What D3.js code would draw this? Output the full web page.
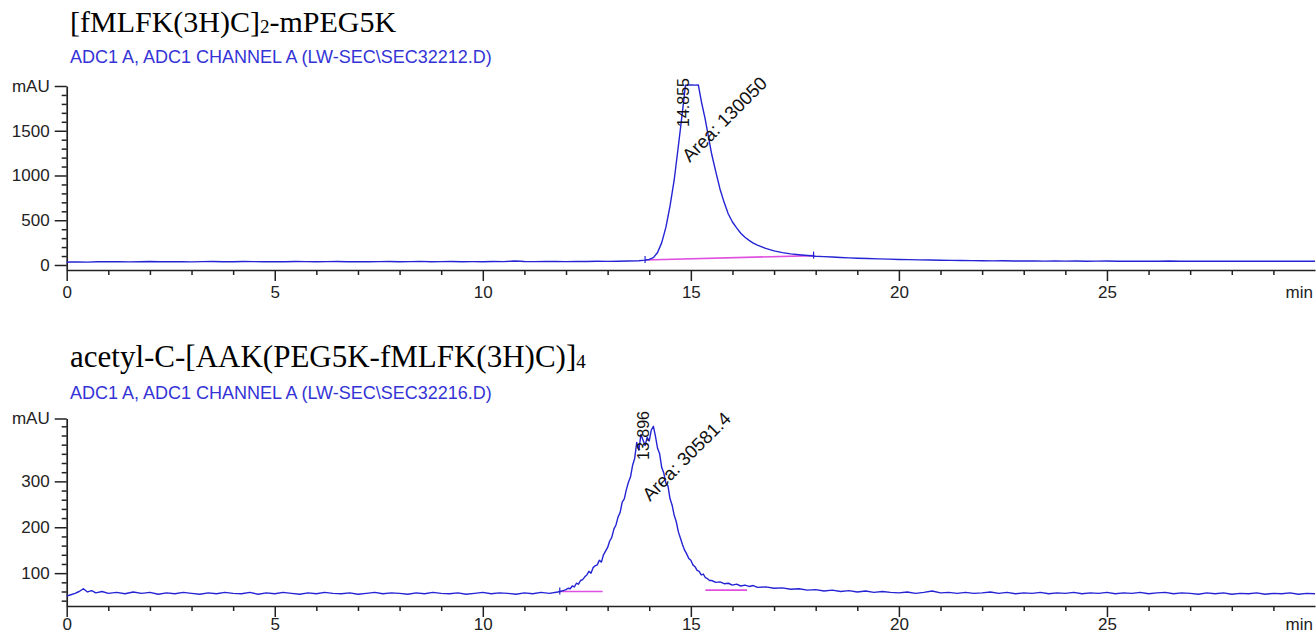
<!DOCTYPE html>
<html>
<head>
<meta charset="utf-8">
<script src="https://cdn.jsdelivr.net/npm/d3@7"></script>
<style>
body { margin: 0; background: #fff; }
</style>
</head>
<body>
<script>

// chromatogram 1: [fMLFK(3H)C]2-mPEG5K  (time in min, signal in mAU)
var topTrace = [
    [0,30],[0.1,33],[0.25,35],[0.5,32],[0.75,37],[1,36],[1.25,38],[1.5,35],[1.75,37],[2,39],
    [2.25,36],[2.5,38],[2.75,37],[3,35],[3.25,38],[3.5,39],[3.75,36],[4,37],[4.25,39],[4.5,38],
    [4.75,36],[5,38],[5.25,37],[5.5,39],[5.75,38],[6,36],[6.25,38],[6.5,39],[6.75,37],[7,38],
    [7.25,36],[7.5,38],[7.75,39],[8,37],[8.25,38],[8.5,40],[8.75,37],[9,38],[9.25,39],[9.5,37],
    [9.75,38],[10,37],[10.25,39],[10.5,38],[10.75,44],[10.9,41],[11,39],[11.25,38],[11.5,40],[11.75,39],
    [12,38],[12.25,40],[12.5,39],[12.75,41],[13,40],[13.25,42],[13.5,44],[13.75,48],[13.9,54],[14,62],
    [14.1,82],[14.2,140],[14.3,250],[14.4,420],[14.5,660],[14.6,950],[14.7,1330],[14.8,1720],[14.87,2010],[15,2012],
    [15.1,2010],[15.18,2012],[15.26,1810],[15.34,1640],[15.42,1440],[15.5,1240],[15.6,1040],[15.7,850],[15.8,700],[15.9,570],
    [16,480],[16.1,415],[16.2,355],[16.3,310],[16.4,275],[16.5,245],[16.6,222],[16.8,185],[17,158],[17.2,138],
    [17.4,124],[17.6,114],[17.8,106],[18,98],[18.2,94],[18.4,89],[18.6,84],[18.8,80],[19,76],[19.25,72],
    [19.5,68],[19.75,65],[20,62],[20.25,60],[20.5,57],[20.75,55],[21,53],[21.25,51],[21.5,50],[21.75,49],
    [22,47],[22.25,46],[22.5,47],[22.75,45],[23,44],[23.25,45],[23.5,43],[23.75,44],[24,43],[24.25,44],
    [24.5,42],[24.75,43],[25,44],[25.25,42],[25.5,43],[25.75,41],[26,43],[26.25,42],[26.5,44],[26.75,42],
    [27,41],[27.25,43],[27.5,42],[27.75,41],[28,43],[28.25,42],[28.5,41],[28.75,43],[29,42],[29.25,41],
    [29.5,43],[29.75,42],[30,41]
];

// chromatogram 2: acetyl-C-[AAK(PEG5K-fMLFK(3H)C)]4
var bottomTrace = [
    [0,50],[0.1,53],[0.2,56],[0.3,60],[0.4,66],[0.5,59],[0.6,62],[0.7,57],[0.85,60],[1,56],
    [1.2,58],[1.4,55],[1.6,59],[1.8,56],[2,58],[2.2,54],[2.4,57],[2.6,55],[2.8,58],[3,56],
    [3.2,54],[3.4,57],[3.6,55],[3.8,58],[4,56],[4.2,55],[4.4,58],[4.6,54],[4.8,57],[5,55],
    [5.2,58],[5.4,56],[5.6,54],[5.8,57],[6,55],[6.2,58],[6.4,56],[6.6,55],[6.8,57],[7,54],
    [7.2,56],[7.4,58],[7.6,55],[7.8,57],[8,56],[8.2,54],[8.4,57],[8.6,55],[8.8,58],[9,56],
    [9.2,55],[9.4,57],[9.6,54],[9.8,56],[10,58],[10.2,55],[10.4,57],[10.6,56],[10.8,54],[11,57],
    [11.2,55],[11.4,58],[11.6,56],[11.8,59],[11.9,61],[12,64],[12.05,67],[12.1,66],[12.15,72],[12.2,70],
    [12.25,78],[12.3,76],[12.35,84],[12.4,86],[12.45,92],[12.5,96],[12.55,104],[12.6,100],[12.65,112],[12.7,116],
    [12.75,118],[12.8,128],[12.85,124],[12.9,140],[12.95,148],[13,156],[13.05,170],[13.1,178],[13.15,196],[13.2,205],
    [13.25,222],[13.3,232],[13.35,255],[13.4,262],[13.45,282],[13.5,298],[13.55,310],[13.6,335],[13.65,350],[13.7,385],
    [13.75,368],[13.8,402],[13.85,390],[13.9,378],[13.95,396],[14,388],[14.05,412],[14.1,420],[14.15,398],[14.2,372],
    [14.25,360],[14.3,330],[14.35,318],[14.4,296],[14.45,290],[14.5,262],[14.55,248],[14.6,226],[14.65,212],[14.7,190],
    [14.75,176],[14.8,162],[14.85,150],[14.9,142],[14.95,132],[15,128],[15.05,118],[15.1,114],[15.15,106],[15.2,104],
    [15.25,96],[15.3,98],[15.35,90],[15.4,88],[15.45,84],[15.5,84],[15.6,80],[15.7,81],[15.8,77],[15.9,78],
    [16,74],[16.1,76],[16.2,72],[16.3,74],[16.4,71],[16.5,73],[16.6,69],[16.8,70],[17,67],[17.2,68],
    [17.4,65],[17.6,66],[17.8,63],[18,64],[18.2,61],[18.4,63],[18.6,60],[18.8,62],[19,59],[19.2,61],
    [19.4,58],[19.6,60],[19.8,58],[20,57],[20.2,59],[20.4,56],[20.6,58],[20.8,61],[21,57],[21.2,58],
    [21.4,56],[21.6,58],[21.8,56],[22,57],[22.2,59],[22.4,56],[22.6,58],[22.8,55],[23,57],[23.2,56],
    [23.4,58],[23.6,55],[23.8,57],[24,56],[24.2,58],[24.4,55],[24.6,57],[24.8,56],[25,58],[25.2,55],
    [25.4,57],[25.6,56],[25.8,58],[26,55],[26.2,57],[26.4,58],[26.6,55],[26.8,57],[27,56],[27.2,54],
    [27.4,57],[27.6,55],[27.8,57],[28,54],[28.2,56],[28.4,55],[28.6,57],[28.8,54],[29,56],[29.2,55],
    [29.4,57],[29.6,54],[29.8,56],[30,55]
];

// integration baselines (pink) and event marks
var topBaselines = [ [[13.9,55],[17.95,105]] ];
var bottomBaselines = [ [[11.85,60],[12.88,60]], [[15.35,63],[16.35,63]] ];
var topMarks = [[13.9,55],[17.95,105]];
var bottomMarks = [[11.85,60]];

var peakTimes = [14.855, 13.896];
var peakLabels = ["14.855", "13.896"];
var areaLabels = ["Area: 130050", "Area: 30581.4"];

var xTicks = [0, 5, 10, 15, 20, 25];
var topYTicks = [0, 500, 1000, 1500];
var bottomYTicks = [100, 200, 300];

var titleMain = ["[fMLFK(3H)C]", "acetyl-C-[AAK(PEG5K-fMLFK(3H)C)]"];
var titleSub = ["2", "4"];
var titleTail = ["-mPEG5K", ""];
var subtitles = ["ADC1 A, ADC1 CHANNEL A (LW-SEC\\SEC32212.D)", "ADC1 A, ADC1 CHANNEL A (LW-SEC\\SEC32216.D)"];

var w = 1316, h = 636;
var sans = "'Liberation Sans', Arial, Helvetica, sans-serif";
var serif = "'Liberation Serif', 'Times New Roman', serif";
var blue = "#2424d4";
var pink = "#e050e0";
var ink = "#222";

var svg = d3.select("body").append("svg")
    .attr("width", w)
    .attr("height", h);

var xScale = d3.scaleLinear().domain([0, 30]).range([66.7, 1315]);

var panels = [
    {trace: topTrace, baselines: topBaselines, marks: topMarks, yTicks: topYTicks,
     minor: d3.range(100, 2000, 100), yDomain: [-56, 2000], yRange: [270, 86],
     titleY: 32, titleSize: 30, subY: 63, rtY: 127, areaY: 163, pad: 5},
    {trace: bottomTrace, baselines: bottomBaselines, marks: bottomMarks, yTicks: bottomYTicks,
     minor: d3.range(40, 430, 20), yDomain: [28.4, 437], yRange: [606, 418.5],
     titleY: 367, titleSize: 31, subY: 399, rtY: 460, areaY: 502, pad: 1}
];

panels.forEach(function(p, i) {
    var yScale = d3.scaleLinear().domain(p.yDomain).range(p.yRange);
    var axisY = p.yRange[0];

    // titles
    var t = svg.append("text")
        .attr("x", 70)
        .attr("y", p.titleY)
        .attr("font-family", serif)
        .attr("font-size", p.titleSize)
        .attr("fill", "#000");
    t.append("tspan").text(titleMain[i]);
    t.append("tspan").attr("font-size", 19).attr("dy", 1).text(titleSub[i]);
    if (titleTail[i]) t.append("tspan").attr("dy", -1).text(titleTail[i]);

    svg.append("text")
        .attr("x", 70)
        .attr("y", p.subY)
        .attr("font-family", sans)
        .attr("font-size", 18)
        .attr("fill", "#3434d6")
        .text(subtitles[i]);

    // x axis: minor then major
    var minorX = d3.range(1, 30).filter(function(d) { return d % 5 != 0; });
    svg.append("g")
        .attr("transform", "translate(0," + axisY + ")")
        .call(d3.axisBottom(xScale).tickValues(minorX).tickSize(5).tickSizeOuter(0).tickFormat(""))
        .attr("color", ink)
        .call(function(g) { g.select(".domain").remove(); })
        .selectAll("line").attr("stroke-width", 1.5);

    var gx = svg.append("g")
        .attr("transform", "translate(0," + axisY + ")")
        .call(d3.axisBottom(xScale).tickValues(xTicks).tickSize(11).tickPadding(p.pad).tickSizeOuter(0).tickFormat(d3.format("d")))
        .attr("color", ink)
        .attr("font-family", sans)
        .attr("font-size", 17);
    gx.select(".domain").attr("stroke-width", 1.7);
    gx.selectAll("line").attr("stroke-width", 1.5);
    gx.selectAll("text").attr("fill", ink);

    svg.append("text")
        .attr("x", 1313)
        .attr("y", axisY + 23 + p.pad)
        .attr("text-anchor", "end")
        .attr("font-family", sans)
        .attr("font-size", 17)
        .attr("fill", ink)
        .text("min");

    // y axis: minor then major (top tick carries the unit)
    var minorY = p.minor.filter(function(d) { return p.yTicks.indexOf(d) < 0; });
    svg.append("g")
        .attr("transform", "translate(" + xScale(0) + ",0)")
        .call(d3.axisLeft(yScale).tickValues(minorY).tickSize(5).tickSizeOuter(0).tickFormat(""))
        .attr("color", ink)
        .call(function(g) { g.select(".domain").remove(); })
        .selectAll("line").attr("stroke-width", 1.5);

    var top = p.yDomain[1];
    var gy = svg.append("g")
        .attr("transform", "translate(" + xScale(0) + ",0)")
        .call(d3.axisLeft(yScale).tickValues(p.yTicks.concat([top])).tickSize(12).tickPadding(5).tickSizeOuter(0)
            .tickFormat(function(d) { return d == top ? "mAU" : d; }))
        .attr("color", ink)
        .attr("font-family", sans)
        .attr("font-size", 17);
    gy.select(".domain").attr("stroke-width", 1.7);
    gy.selectAll("line").attr("stroke-width", 1.5);
    gy.selectAll("text").attr("fill", ink);

    // integration baselines
    var line = d3.line()
        .x(function(d) { return xScale(d[0]); })
        .y(function(d) { return yScale(d[1]); });

    p.baselines.forEach(function(b) {
        svg.append("path")
            .attr("d", line(b))
            .attr("fill", "none")
            .attr("stroke", pink)
            .attr("stroke-width", 1.6);
    });

    // signal
    svg.append("path")
        .datum(p.trace)
        .attr("d", line)
        .attr("fill", "none")
        .attr("stroke", blue)
        .attr("stroke-width", 1.4)
        .attr("stroke-linejoin", "round");

    svg.selectAll(null)
        .data(p.marks)
        .enter()
        .append("line")
        .attr("x1", function(d) { return xScale(d[0]); })
        .attr("x2", function(d) { return xScale(d[0]); })
        .attr("y1", function(d) { return yScale(d[1]) - 4; })
        .attr("y2", function(d) { return yScale(d[1]) + 3; })
        .attr("stroke", blue)
        .attr("stroke-width", 1.2);

    // peak annotations
    var px = xScale(peakTimes[i]);
    svg.append("text")
        .attr("transform", "translate(" + (px + 4) + "," + p.rtY + ") rotate(-90)")
        .attr("font-family", sans)
        .attr("font-size", 16)
        .attr("fill", "#111")
        .text(peakLabels[i]);

    svg.append("text")
        .attr("transform", "translate(" + (px + 5) + "," + p.areaY + ") rotate(-45)")
        .attr("font-family", sans)
        .attr("font-size", 18.5)
        .attr("fill", "#111")
        .text(areaLabels[i]);
});

</script>
</body>
</html>
